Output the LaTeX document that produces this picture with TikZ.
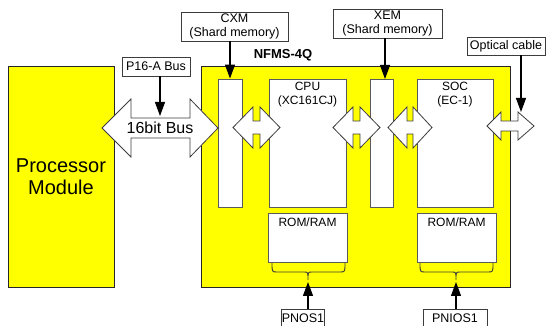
\documentclass[tikz,border=0pt]{standalone}
\usepackage{fontspec}
\setmainfont{Liberation Sans}
\usetikzlibrary{arrows.meta}
\definecolor{yel}{RGB}{255,255,0}
\definecolor{edge}{RGB}{60,60,60}
\definecolor{inedge}{RGB}{90,90,90}
\newcommand{\dblArrow}[7]{%
  \draw[dblshape] (#1,#5) -- (#2,#5-#6) -- (#2,#5-#7) -- (#3,#5-#7) -- (#3,#5-#6) -- (#4,#5)
    -- (#3,#5+#6) -- (#3,#5+#7) -- (#2,#5+#7) -- (#2,#5+#6) -- cycle;}
\newcommand{\romBrace}[3]{%
  \draw[bracestyle] (#1,263) .. controls (#1,272) .. (#1+5,272) -- (#2-4,272)
    .. controls (#2,272) .. (#2,280) .. controls (#2,272) .. (#2+4,272) -- (#3-5,272)
    .. controls (#3,272) .. (#3,263);}
\begin{document}
\begin{tikzpicture}[x=1pt,y=-1pt,
  txt/.style={font=\fontsize{12}{14}\selectfont, align=center, inner sep=0pt},
  bigbox/.style={draw=black!85, line width=1pt, fill=yel, inner sep=0pt},
  inbox/.style={draw=inedge, line width=0.9pt, fill=white, inner sep=0pt},
  tagbox/.style={draw=edge, line width=0.9pt, fill=white, inner sep=0pt, align=center, font=\fontsize{12.5}{14.5}\selectfont},
  arr/.style={line width=1.2pt, -{Triangle[length=14pt,width=10pt]}},
  dblshape/.style={draw=edge, line width=0.8pt, fill=white, line join=miter},
  bracestyle/.style={draw=edge, line width=0.9pt}]
\useasboundingbox (0,0) rectangle (547,326);
\fill[white] (0,0) rectangle (547,326);

% main blocks
\node[bigbox, minimum width=106pt, minimum height=221pt] (pm) at (61,177.5) {};
\node[font=\fontsize{20}{22}\selectfont, align=center, inner sep=0pt] (pmlbl) at (61,177) {Processor\\Module};
\node[bigbox, minimum width=309pt, minimum height=221pt] (nfms) at (355.5,177.5) {};
\node[font=\bfseries\fontsize{13}{15}\selectfont, inner sep=0pt] (nfmslbl) at (283,55) {NFMS-4Q};

% inner blocks
\node[inbox, minimum width=24pt, minimum height=128pt] (cxmstrip) at (230,143) {};
\node[inbox, minimum width=77pt, minimum height=128pt] (cpu) at (307.5,143) {};
\node[txt] (cpulbl) at (307.5,95) {CPU\\(XC161CJ)};
\node[inbox, minimum width=23pt, minimum height=128pt] (xemstrip) at (381.5,143) {};
\node[inbox, minimum width=76pt, minimum height=128pt] (soc) at (455,143) {};
\node[txt] (soclbl) at (455,95) {SOC\\(EC-1)};
\node[inbox, minimum width=79pt, minimum height=49pt] (rom1) at (307.5,237.5) {};
\node[txt] (rom1lbl) at (307.5,222) {ROM/RAM};
\node[inbox, minimum width=79pt, minimum height=49pt] (rom2) at (456.5,237.5) {};
\node[txt] (rom2lbl) at (456.5,222) {ROM/RAM};

% braces
\romBrace{272}{308}{345}
\romBrace{420}{456}{493}

% double arrows
\dblArrow{102}{131}{190}{218}{128}{29}{10}
\node[font=\fontsize{16}{18}\selectfont, inner sep=0pt] (buslbl) at (160,128) {16bit Bus};
\dblArrow{233}{253}{260}{280}{127.5}{20.5}{6.5}
\dblArrow{333}{353}{360}{380}{127.5}{20.5}{6.5}
\dblArrow{388}{407}{413}{432}{127.5}{20.5}{6.5}
\dblArrow{487}{501}{518}{534}{126}{14}{5}

% tag boxes
\node[tagbox, minimum width=107pt, minimum height=29pt] (cxmbox) at (234.5,26.5) {CXM\\(Shard memory)};
\node[tagbox, minimum width=109pt, minimum height=29pt] (xembox) at (387.5,23.5) {XEM\\(Shard memory)};
\node[tagbox, minimum width=78pt, minimum height=18pt] (optbox) at (506,46) {Optical cable};
\node[tagbox, minimum width=68pt, minimum height=19pt] (p16box) at (156,66.5) {P16-A Bus};
\node[tagbox, minimum width=40pt, minimum height=18pt] (pnosbox) at (303,318) {PNOS1};
\node[tagbox, minimum width=64pt, minimum height=18pt] (pniosbox) at (455,318) {PNIOS1};

% connectors
\coordinate (xemin) at (385,79);
\coordinate (bustop) at (160,116);
\coordinate (optin) at (521,112);
\coordinate (br1) at (308,282);
\coordinate (br2) at (456,282);
\draw[arr] (cxmbox.south -| cxmstrip.north) -- (cxmstrip.north);
\draw[arr] (xembox.south -| xemin) -- (xemin);
\draw[arr] (p16box.south -| bustop) -- (bustop);
\draw[arr] (optbox.south -| optin) -- (optin);
\draw[arr] (pnosbox.north -| br1) -- (br1);
\draw[arr] (pniosbox.north -| br2) -- (br2);
\end{tikzpicture}
\end{document}
